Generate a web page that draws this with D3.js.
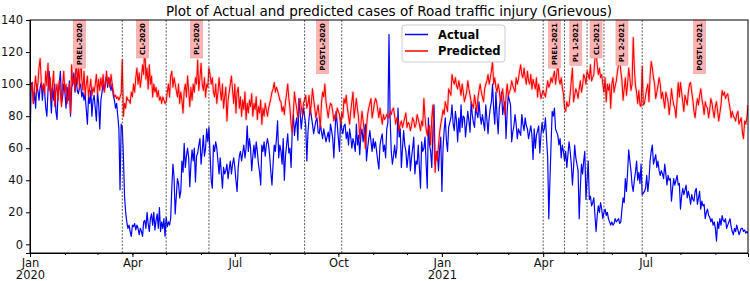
<!DOCTYPE html>
<html>
<head>
<meta charset="utf-8">
<script src="https://cdn.jsdelivr.net/npm/d3@7"></script>
<style>
  body { margin: 0; background: #fff; }
  text { font-family: "DejaVu Sans", sans-serif; }
</style>
</head>
<body>
<svg id="chart" width="750" height="281"></svg>
<script>
// daily series, first value is 2020-01-01
const startDate = "2020-01-01";

const actual2020 = [
  60,100,101,88,95,85,100,96,90,98,101,90,100,95,85,80,96,108,96,82,98,90,100,83,78,95,100,108,88,92,100,
  95,85,98,90,102,80,98,100,107,95,104,96,94,98,100,92,95,90,94,84,75,92,88,96,80,90,93,85,77,
  95,88,72,90,95,100,96,102,105,98,104,100,96,100,93,90,85,88,80,72,34,75,73,55,30,20,14,10,12,8,5,
  12,11,13,9,12,10,6,10,8,5,14,15,10,20,13,8,16,19,12,20,9,15,19,10,23,8,14,10,16,5,
  17,11,14,12,16,35,50,42,19,30,41,38,29,33,52,45,63,48,55,60,54,36,50,59,52,60,39,55,57,62,66,
  50,58,68,55,60,72,64,73,56,40,35,62,58,64,60,52,44,54,45,35,48,44,46,50,41,47,52,44,50,54,
  48,40,33,48,55,58,52,57,62,54,60,74,58,66,60,46,55,62,54,64,58,50,45,37,62,58,64,55,62,66,62,
  55,45,37,50,62,58,66,77,54,62,58,50,66,40,55,62,69,57,60,48,71,81,68,75,79,65,91,83,72,79,85,
  80,74,52,70,79,85,80,75,69,73,77,79,70,69,75,70,66,72,68,64,67,70,64,75,71,66,54,70,83,75,
  66,58,79,72,69,74,75,66,70,62,72,67,60,66,63,58,75,62,68,56,68,72,64,70,75,52,60,66,71,64,58,
  66,60,64,58,52,47,62,66,69,58,62,54,72,76,131,79,58,50,55,62,54,60,85,67,72,48,60,71,62,58,
  48,55,62,46,54,60,67,44,52,50,62,48,35,64,58,60,67,50,35,79,62,58,48,70,87,50,55,58,46,60,67
];
const actual2021 = [
  33,60,71,79,65,58,73,76,79,87,75,71,83,77,64,79,70,87,73,80,79,67,75,83,77,70,89,81,76,73,85,
  82,79,89,80,75,81,76,71,87,78,69,79,85,89,100,84,75,95,80,69,85,90,95,81,86,89,66,83,
  93,90,87,64,70,74,81,75,66,72,70,68,81,75,71,79,74,72,66,70,74,68,53,72,60,68,71,74,57,68,76,
  70,72,79,66,54,16,40,62,83,80,85,72,70,68,62,66,54,62,58,52,58,48,56,64,58,50,37,48,62,54,
  50,46,16,35,50,44,52,58,28,40,52,28,30,24,26,29,18,8,18,24,20,26,22,16,20,22,18,20,16,14,12,
  14,12,13,16,14,15,16,13,14,22,29,26,41,33,45,59,52,46,37,33,40,45,52,40,45,38,50,31,32,33,
  35,43,33,40,52,58,62,50,53,56,48,52,46,43,46,44,41,50,44,37,43,40,41,27,35,41,37,40,43,37,38,
  22,30,35,31,34,37,29,33,30,25,31,28,27,33,35,25,29,33,22,27,24,25,16,20,22,18,17,14,16,12,14,
  10,2,14,10,16,12,18,15,14,16,10,12,14,16,11,8,6,10,8,12,9,6,8,10,10,8,9,7,8,7
];

const predicted2020 = [
  100,96,101,88,98,105,95,100,110,116,102,96,100,94,108,99,113,96,104,90,100,108,86,95,100,90,102,94,86,100,108,
  95,100,88,92,100,82,112,100,104,96,118,100,110,97,121,103,96,108,93,100,105,92,97,103,93,98,95,100,106,
  94,103,96,104,98,106,95,99,108,100,104,98,106,100,95,92,93,91,92,90,92,94,115,80,88,85,92,90,90,88,95,
  92,100,95,104,110,100,107,98,104,112,106,127,103,110,97,112,100,105,92,100,95,98,92,96,90,92,88,92,90,88,
  89,95,100,92,105,108,98,104,100,96,92,100,88,95,90,82,96,100,92,105,96,86,98,90,100,95,104,100,115,96,104,
  113,100,96,104,92,100,98,110,106,100,104,95,92,100,88,95,104,96,90,100,85,92,98,77,90,95,100,105,96,88,
  100,82,95,98,85,92,80,90,84,95,78,88,82,90,86,94,80,88,84,92,78,86,82,90,75,85,80,88,84,80,85,
  88,91,95,97,101,95,98,96,93,90,89,83,86,81,89,94,100,91,85,75,70,82,95,89,85,79,87,91,86,81,88,
  90,93,85,88,93,81,88,97,91,85,79,83,87,80,73,88,95,92,100,89,84,79,85,88,87,83,77,81,79,85,
  83,81,75,82,79,91,88,93,85,80,75,83,89,95,79,85,91,84,79,66,75,83,77,70,60,73,81,85,88,91,79,
  83,88,91,89,84,79,85,80,75,81,78,79,81,80,79,83,81,84,85,80,75,79,77,71,75,77,73,76,79,82,
  73,76,75,71,74,79,77,73,75,81,78,75,71,77,74,91,79,72,68,73,74,62,79,87,66,45,58,52,62,70,75
];
const predicted2021 = [
  79,84,81,89,86,83,97,95,93,106,102,100,104,99,97,102,98,93,100,95,89,92,95,102,97,93,89,87,85,93,88,
  83,91,96,100,95,92,89,97,100,102,106,100,104,108,114,100,104,98,95,100,96,89,93,97,90,81,92,100,
  93,95,97,102,99,97,95,104,100,103,108,112,106,104,110,104,100,108,102,100,106,97,103,100,97,104,92,100,96,91,94,
  96,94,92,97,102,98,100,104,101,105,108,100,106,114,103,100,104,98,94,85,83,89,86,87,94,102,110,89,93,97,
  95,91,97,102,95,99,106,104,100,108,106,103,112,102,104,106,116,120,112,106,110,104,106,100,95,104,89,100,96,100,85,
  100,104,95,99,102,108,112,116,108,102,90,97,104,93,100,110,104,96,100,129,110,99,95,88,96,87,86,111,87,88,
  93,97,100,89,105,114,110,104,100,91,95,99,104,100,91,95,90,85,95,92,89,81,88,97,91,87,85,79,90,101,92,
  101,95,89,83,93,90,87,95,100,101,95,90,83,79,86,91,87,93,97,91,87,81,89,86,85,79,84,91,88,83,79,
  86,89,83,77,82,87,96,93,95,91,93,94,89,85,79,83,80,79,77,81,83,75,77,79,70,66,77,75,79,87
];

// period boundaries (dashed lines) and period labels
const periodLines = ["2020-03-23","2020-05-01","2020-06-08","2020-09-01","2020-10-04",
                     "2021-04-01","2021-04-20","2021-05-10","2021-05-25","2021-06-28"];
const periodNames = ["PREL-2020","CL-2020","PL-2020","POSTL-2020",
                     "PREL-2021","PL 1-2021","CL-2021","PL 2-2021","POSTL-2021"];
const periodLabelDates = ["2020-02-14","2020-04-10","2020-05-28","2020-09-17",
                          "2021-04-11","2021-04-30","2021-05-18","2021-06-10","2021-08-18"];

const yTicks = [0, 20, 40, 60, 80, 100, 120, 140];
const xTickDates = ["2020-01-01","2020-04-01","2020-07-01","2020-10-01",
                    "2021-01-01","2021-04-01","2021-07-01"];
const xTickLabels = [["Jan","2020"],["Apr"],["Jul"],["Oct"],["Jan","2021"],["Apr"],["Jul"]];

const titleText = "Plot of Actual and predicted cases of Road traffic injury (Grievous)";
const seriesNames = ["Actual", "Predicted"];

const parse = d3.timeParse("%Y-%m-%d");
const actual = actual2020.concat(actual2021);
const predicted = predicted2020.concat(predicted2021);
const t0 = parse(startDate);
const dates = actual.map((d, i) => d3.timeDay.offset(t0, i));

const pLeft = 30, pRight = 748, pTop = 20, pBottom = 253;

const svg = d3.select("#chart");

const x = d3.scaleTime().domain([dates[0], dates[dates.length - 1]]).range([pLeft, pRight]);
const y = d3.scaleLinear().domain([-5.4, 140]).range([pBottom, pTop]);

svg.append("defs").append("clipPath").attr("id", "plotclip")
  .append("rect").attr("x", pLeft).attr("y", pTop).attr("width", pRight - pLeft).attr("height", pBottom - pTop);

// title
svg.append("text")
  .attr("x", (pLeft + pRight) / 2).attr("y", 15.5)
  .attr("text-anchor", "middle")
  .style("font-size", "13.5px").attr("fill", "#000")
  .text(titleText);

const plot = svg.append("g").attr("clip-path", "url(#plotclip)");

const lineA = d3.line().x((d, i) => x(dates[i])).y(d => y(d));

plot.append("path").datum(actual)
  .attr("d", lineA).attr("fill", "none")
  .attr("stroke", "#0000ff").attr("stroke-width", 1.2).attr("stroke-linejoin", "round");

// soft halo round predicted line
plot.append("path").datum(predicted)
  .attr("d", lineA).attr("fill", "none")
  .attr("stroke", "#ff0000").attr("stroke-opacity", 0.15).attr("stroke-width", 3.2).attr("stroke-linejoin", "round");
plot.append("path").datum(predicted)
  .attr("d", lineA).attr("fill", "none")
  .attr("stroke", "#ff0000").attr("stroke-width", 1.1).attr("stroke-linejoin", "round");

// dashed period lines
plot.selectAll(".pline").data(periodLines).enter().append("line")
  .attr("class", "pline")
  .attr("x1", d => x(parse(d))).attr("x2", d => x(parse(d)))
  .attr("y1", pTop).attr("y2", pBottom)
  .attr("stroke", "#333").attr("stroke-width", 0.8).attr("stroke-dasharray", "2,1.5");

// period labels
const lab = svg.selectAll(".plabel").data(periodNames).enter().append("g").attr("class", "plabel");
lab.each(function(name, i) {
  const g = d3.select(this);
  const cx = x(parse(periodLabelDates[i]));
  const rect = g.append("rect");
  const t = g.append("text")
    .attr("transform", "translate(" + cx + "," + (pTop + 3) + ") rotate(-90)")
    .attr("text-anchor", "end").attr("dy", "0.35em")
    .style("font-size", "7px").style("font-weight", "bold").attr("fill", "#000")
    .text(name);
  const len = t.node().getComputedTextLength();
  rect.attr("x", cx - 6).attr("y", pTop).attr("width", 12).attr("height", len + 6)
    .attr("fill", "#ffb3b3").attr("stroke", "#eea0a0").attr("stroke-width", 0.6);
});

// axes
const yAxis = svg.append("g").attr("transform", "translate(" + pLeft + ",0)")
  .call(d3.axisLeft(y).tickValues(yTicks).tickSize(4).tickPadding(3));
yAxis.selectAll("text").style("font-size", "11.5px").attr("fill", "#111").style("font-family", "DejaVu Sans");

const minorMonths = d3.timeMonth.range(dates[0], dates[dates.length - 1]);
svg.append("g").attr("transform", "translate(0," + pBottom + ")")
  .call(d3.axisBottom(x).tickValues(minorMonths).tickSize(2).tickFormat(""))
  .call(g => g.select(".domain").remove());

const xAxis = svg.append("g").attr("transform", "translate(0," + pBottom + ")")
  .call(d3.axisBottom(x).tickValues(xTickDates.map(parse)).tickSize(4).tickPadding(2).tickFormat(""));
xAxis.selectAll(".tick").each(function(d, i) {
  const t = d3.select(this).select("text")
    .style("font-size", "11.5px").attr("fill", "#111").style("font-family", "DejaVu Sans")
    .attr("y", 6).attr("dy", null);
  xTickLabels[i].forEach((s, k) => {
    t.append("tspan").attr("x", 0).attr("dy", k === 0 ? "0.71em" : "1.0em").text(s);
  });
});

// frame
svg.append("rect").attr("x", pLeft).attr("y", pTop)
  .attr("width", pRight - pLeft).attr("height", pBottom - pTop)
  .attr("fill", "none").attr("stroke", "#000").attr("stroke-width", 1);

svg.selectAll(".domain").attr("stroke", "#000");
svg.selectAll(".tick line").attr("stroke", "#000");

// legend
const lg = svg.append("g").attr("transform", "translate(402,25)");
lg.append("rect").attr("width", 103).attr("height", 37).attr("rx", 3)
  .attr("fill", "#fff").attr("fill-opacity", 0.8).attr("stroke", "#ccc");
const colors = ["#0000ff", "#ff0000"];
seriesNames.forEach((s, i) => {
  const yy = 9.5 + i * 16.5;
  lg.append("line").attr("x1", 3).attr("x2", 26).attr("y1", yy).attr("y2", yy)
    .attr("stroke", colors[i]).attr("stroke-width", 1.5);
  lg.append("text").attr("x", 36).attr("y", yy).attr("dy", "0.35em")
    .style("font-size", "11.5px").style("font-weight", "bold").attr("fill", "#000")
    .text(s);
});
</script>
</body>
</html>
